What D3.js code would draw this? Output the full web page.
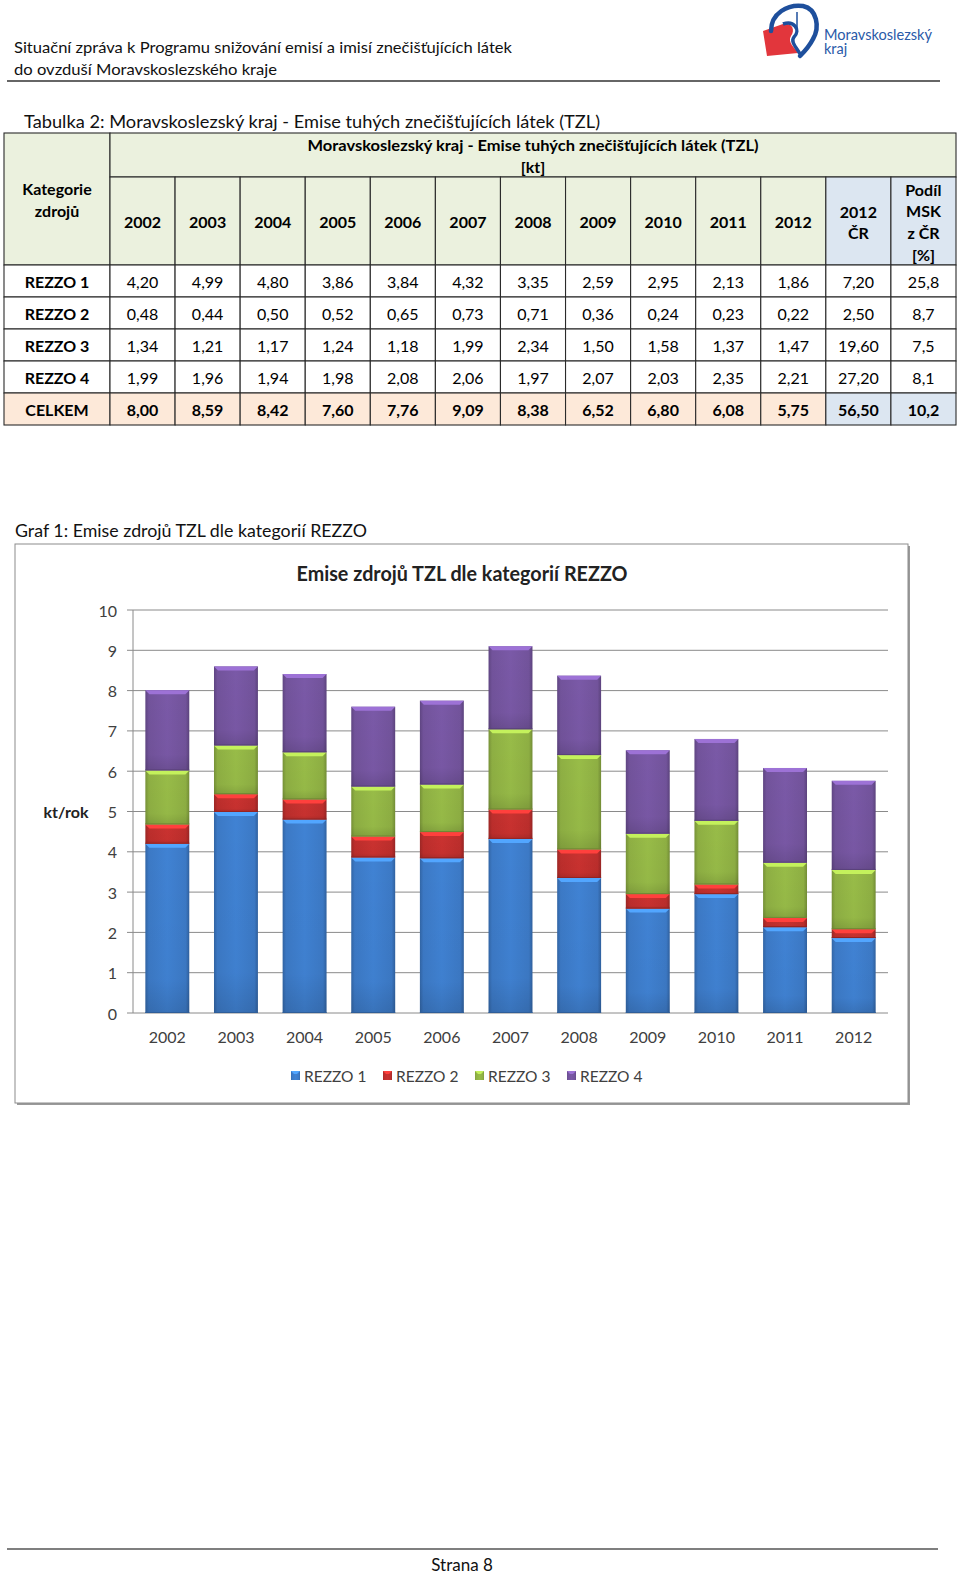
<!DOCTYPE html>
<html><head><meta charset="utf-8">
<script src="https://cdn.jsdelivr.net/npm/d3@7"></script>
<style>
body{margin:0;background:#fff}
svg{display:block}
text{font-family:Lato,"Open Sans","Liberation Sans",sans-serif}
</style>
</head><body>
<svg id="page" width="960" height="1575"></svg>
<script>
// ---------- DATA ----------
const years = ['2002','2003','2004','2005','2006','2007','2008','2009','2010','2011','2012'];
const categories = ['REZZO 1','REZZO 2','REZZO 3','REZZO 4'];
const rezzo1 = [4.20,4.99,4.80,3.86,3.84,4.32,3.35,2.59,2.95,2.13,1.86];
const rezzo2 = [0.48,0.44,0.50,0.52,0.65,0.73,0.71,0.36,0.24,0.23,0.22];
const rezzo3 = [1.34,1.21,1.17,1.24,1.18,1.99,2.34,1.50,1.58,1.37,1.47];
const rezzo4 = [1.99,1.96,1.94,1.98,2.08,2.06,1.97,2.07,2.03,2.35,2.21];
const celkem = [8.00,8.59,8.42,7.60,7.76,9.09,8.38,6.52,6.80,6.08,5.75];
const cr2012 = [7.20,2.50,19.60,27.20,56.50];
const podilMSK = [25.8,8.7,7.5,8.1,10.2];
const yTicks = [0,1,2,3,4,5,6,7,8,9,10];
const seriesColors = ['#3e7dcc','#c3302e','#93b545','#7656a1'];

const svg = d3.select('#page');
const fmt2 = v => v.toFixed(2).replace('.', ',');
const fmt1 = v => v.toFixed(1).replace('.', ',');

// ---------- PAGE HEADER ----------
svg.append('text').attr('x',14).attr('y',46.5).attr('dominant-baseline','central')
  .attr('font-size',16).attr('fill','#111').attr('textLength',498).attr('lengthAdjust','spacingAndGlyphs')
  .text('Situační zpráva k Programu snižování emisí a imisí znečišťujících látek');
svg.append('text').attr('x',14).attr('y',68.5).attr('dominant-baseline','central')
  .attr('font-size',16).attr('fill','#111').attr('textLength',263).attr('lengthAdjust','spacingAndGlyphs')
  .text('do ovzduší Moravskoslezského kraje');
svg.append('line').attr('x1',7).attr('x2',940).attr('y1',81).attr('y2',81).attr('stroke','#333').attr('stroke-width',1.5);

// logo
const logo = svg.append('g');
logo.append('path').attr('d','M763,31 L783,24 C791,22 796,29 791,36 C787,42 795,48 798,53 L767,56 Z').attr('fill','#e2363c');
logo.append('path').attr('d','M771,31 C771,13 788,4 803,6 C817,9 820,27 813,39 C809,47 805,51 800,56')
  .attr('fill','none').attr('stroke','#1e4f9c').attr('stroke-width',4.5).attr('stroke-linecap','round');
logo.append('path').attr('d','M783,24 C794,20 801,30 794,37 C790,42 797,48 800,54')
  .attr('fill','none').attr('stroke','#1e4f9c').attr('stroke-width',3.5);
logo.append('line').attr('x1',797).attr('x2',797).attr('y1',12).attr('y2',28).attr('stroke','#1e4f9c').attr('stroke-width',1.5);
logo.append('text').attr('x',824).attr('y',34).attr('dominant-baseline','central').attr('font-size',14.5)
  .attr('fill','#2a5aa8').attr('textLength',108).attr('lengthAdjust','spacingAndGlyphs').text('Moravskoslezský');
logo.append('text').attr('x',824).attr('y',48).attr('dominant-baseline','central').attr('font-size',14.5)
  .attr('fill','#2a5aa8').text('kraj');

// ---------- TABLE ----------
svg.append('text').attr('x',24).attr('y',121.5).attr('dominant-baseline','central')
  .attr('font-size',17).attr('fill','#111').attr('textLength',576).attr('lengthAdjust','spacingAndGlyphs')
  .text('Tabulka 2: Moravskoslezský kraj - Emise tuhých znečišťujících látek (TZL)');

const tLeft = 4, tFirst = 110, tRight = 956;
const colX = d3.scaleLinear().domain([0,13]).range([tFirst,tRight]); // 13 data columns
const rowTop = 133, rowMid = 177, rowHead = 265, rowH = 32;
const green = '#ebf1de', blue = '#dce6f1', peach = '#fde9d9';
const tg = svg.append('g');

function cell(x0,y0,x1,y1,fill){
  tg.append('rect').attr('x',x0).attr('y',y0).attr('width',x1-x0).attr('height',y1-y0)
    .attr('fill',fill).attr('stroke','#2b2b2b').attr('stroke-width',1.1);
}
function txt(x,y,s,bold,len){
  const t = tg.append('text').attr('x',x).attr('y',y).attr('text-anchor','middle').attr('dominant-baseline','central')
    .attr('font-size',16).attr('font-weight',bold?'bold':'normal').attr('fill','#000').text(s);
  if (len) t.attr('textLength',len).attr('lengthAdjust','spacingAndGlyphs');
}
// header cells
cell(tLeft,rowTop,tFirst,rowHead,green);
cell(tFirst,rowTop,tRight,rowMid,green);
years.forEach((y,i)=>cell(colX(i),rowMid,colX(i+1),rowHead,green));
cell(colX(11),rowMid,colX(12),rowHead,blue);
cell(colX(12),rowMid,colX(13),rowHead,blue);
// header text
txt((tLeft+tFirst)/2,188.5,'Kategorie',true);
txt((tLeft+tFirst)/2,210,'zdrojů',true);
txt((tFirst+tRight)/2,144.5,'Moravskoslezský kraj - Emise tuhých znečišťujících látek (TZL)',true,451);
txt((tFirst+tRight)/2,166.5,'[kt]',true);
years.forEach((y,i)=>txt((colX(i)+colX(i+1))/2,221,y,true));
txt((colX(11)+colX(12))/2,211,'2012',true);
txt((colX(11)+colX(12))/2,232,'ČR',true);
['Podíl','MSK','z ČR','[%]'].forEach((s,k)=>txt((colX(12)+colX(13))/2,189+k*21.7,s,true));

// body rows
const seriesData = [rezzo1,rezzo2,rezzo3,rezzo4];
const rowLabels = categories.concat(['CELKEM']);
const rowValues = seriesData.concat([celkem]);
rowLabels.forEach((lab,r)=>{
  const y0 = rowHead + r*rowH, y1 = y0 + rowH, yc = y0 + rowH/2 + 0.5;
  const isTotal = r===4;
  cell(tLeft,y0,tFirst,y1,isTotal?peach:'#fff');
  txt((tLeft+tFirst)/2,yc,lab,true);
  rowValues[r].forEach((v,i)=>{
    cell(colX(i),y0,colX(i+1),y1,isTotal?peach:'#fff');
    txt((colX(i)+colX(i+1))/2,yc,fmt2(v),isTotal);
  });
  cell(colX(11),y0,colX(12),y1,isTotal?blue:'#fff');
  txt((colX(11)+colX(12))/2,yc,fmt2(cr2012[r]),isTotal);
  cell(colX(12),y0,colX(13),y1,isTotal?blue:'#fff');
  txt((colX(12)+colX(13))/2,yc,fmt1(podilMSK[r]),isTotal);
});

// ---------- CHART ----------
svg.append('text').attr('x',15).attr('y',530).attr('dominant-baseline','central')
  .attr('font-size',17).attr('fill','#111').attr('textLength',352).attr('lengthAdjust','spacingAndGlyphs')
  .text('Graf 1: Emise zdrojů TZL dle kategorií REZZO');

// frame with shadow
svg.append('rect').attr('x',17).attr('y',546).attr('width',893).attr('height',559).attr('fill','#9a9a9a');
svg.append('rect').attr('x',15).attr('y',544).attr('width',893).attr('height',559)
  .attr('fill','#fff').attr('stroke','#8c8c8c').attr('stroke-width',1);

svg.append('text').attr('x',462).attr('y',573).attr('text-anchor','middle').attr('dominant-baseline','central')
  .attr('font-size',20).attr('font-weight','bold').attr('fill','#222').attr('textLength',331).attr('lengthAdjust','spacingAndGlyphs')
  .text('Emise zdrojů  TZL dle kategorií REZZO');

const pL = 133, pR = 888, pT = 610, pB = 1013;
const x = d3.scaleBand().domain(years).range([pL,pR]).paddingInner(0.36).paddingOuter(0.18);
const y = d3.scaleLinear().domain([0,10]).range([pB,pT]);

// gradients
const defs = svg.append('defs');
seriesColors.forEach((c,i)=>{
  const base = d3.color(c);
  const g = defs.append('linearGradient').attr('id','g'+i).attr('x1',0).attr('x2',1).attr('y1',0).attr('y2',0);
  g.append('stop').attr('offset',0).attr('stop-color',base.darker(0.6));
  g.append('stop').attr('offset',0.08).attr('stop-color',base.darker(0.1));
  g.append('stop').attr('offset',0.5).attr('stop-color',base.brighter(0.1));
  g.append('stop').attr('offset',0.92).attr('stop-color',base.darker(0.1));
  g.append('stop').attr('offset',1).attr('stop-color',base.darker(0.7));
  const v = defs.append('linearGradient').attr('id','v'+i).attr('x1',0).attr('x2',0).attr('y1',0).attr('y2',1);
  v.append('stop').attr('offset',0).attr('stop-color','#000').attr('stop-opacity',0);
  v.append('stop').attr('offset',0.8).attr('stop-color','#000').attr('stop-opacity',0.02);
  v.append('stop').attr('offset',1).attr('stop-color','#000').attr('stop-opacity',0.12);
});

// grid
const grid = svg.append('g');
grid.selectAll('line.gl').data(yTicks).join('line').attr('class','gl')
  .attr('x1',pL-6).attr('x2',pR).attr('y1',d=>y(d)).attr('y2',d=>y(d))
  .attr('stroke','#8a8a8a').attr('stroke-width',1);
grid.append('line').attr('x1',pL).attr('x2',pL).attr('y1',pT).attr('y2',pB).attr('stroke','#8a8a8a');

// y axis labels
svg.append('g').selectAll('text').data(yTicks).join('text')
  .attr('x',117).attr('y',d=>y(d)).attr('text-anchor','end').attr('dominant-baseline','central')
  .attr('font-size',16).attr('fill','#404040').text(d=>d);
svg.append('text').attr('x',66).attr('y',y(5)).attr('text-anchor','middle').attr('dominant-baseline','central')
  .attr('font-size',16).attr('font-weight','bold').attr('fill','#222').text('kt/rok');

// stacked bars
const rows = years.map((yr,i)=>({year:yr,'REZZO 1':rezzo1[i],'REZZO 2':rezzo2[i],'REZZO 3':rezzo3[i],'REZZO 4':rezzo4[i]}));
const stack = d3.stack().keys(categories)(rows);
const bars = svg.append('g');
stack.forEach((layer,si)=>{
  const base = d3.color(seriesColors[si]);
  layer.forEach(d=>{
    const x0 = x(d.data.year), w = x.bandwidth();
    const yt = y(d[1]), yb = y(d[0]), h = yb - yt;
    const g = bars.append('g');
    g.append('rect').attr('x',x0).attr('y',yt).attr('width',w).attr('height',h).attr('fill',`url(#g${si})`);
    g.append('rect').attr('x',x0).attr('y',yt).attr('width',w).attr('height',h).attr('fill',`url(#v${si})`);
    const b = Math.min(4,h/2);
    g.append('polygon').attr('points',`${x0},${yt} ${x0+w},${yt} ${x0+w-b},${yt+b} ${x0+b},${yt+b}`)
      .attr('fill',base.brighter(0.8));
    g.append('line').attr('x1',x0).attr('x2',x0+w).attr('y1',yb-0.5).attr('y2',yb-0.5)
      .attr('stroke',base.darker(0.8)).attr('stroke-width',1);
  });
});

// x labels
svg.append('g').selectAll('text').data(years).join('text')
  .attr('x',d=>x(d)+x.bandwidth()/2).attr('y',1036).attr('text-anchor','middle').attr('dominant-baseline','central')
  .attr('font-size',16).attr('fill','#404040').text(d=>d);

// legend
const legX = [291,383,475,567];
const leg = svg.append('g');
categories.forEach((c,i)=>{
  const base = d3.color(seriesColors[i]);
  leg.append('rect').attr('x',legX[i]).attr('y',1071).attr('width',9).attr('height',9).attr('fill',`url(#g${i})`);
  leg.append('polygon').attr('points',`${legX[i]},${1071} ${legX[i]+9},${1071} ${legX[i]+6},${1074} ${legX[i]+3},${1074}`).attr('fill',base.brighter(0.8));
  leg.append('text').attr('x',legX[i]+13).attr('y',1076).attr('dominant-baseline','central')
    .attr('font-size',15.5).attr('fill','#404040').text(c);
});

// ---------- FOOTER ----------
svg.append('line').attr('x1',7).attr('x2',938).attr('y1',1549).attr('y2',1549).attr('stroke','#555').attr('stroke-width',1.5);
svg.append('text').attr('x',462).attr('y',1564).attr('text-anchor','middle').attr('dominant-baseline','central')
  .attr('font-size',17).attr('fill','#111').text('Strana 8');
</script>
</body></html>
